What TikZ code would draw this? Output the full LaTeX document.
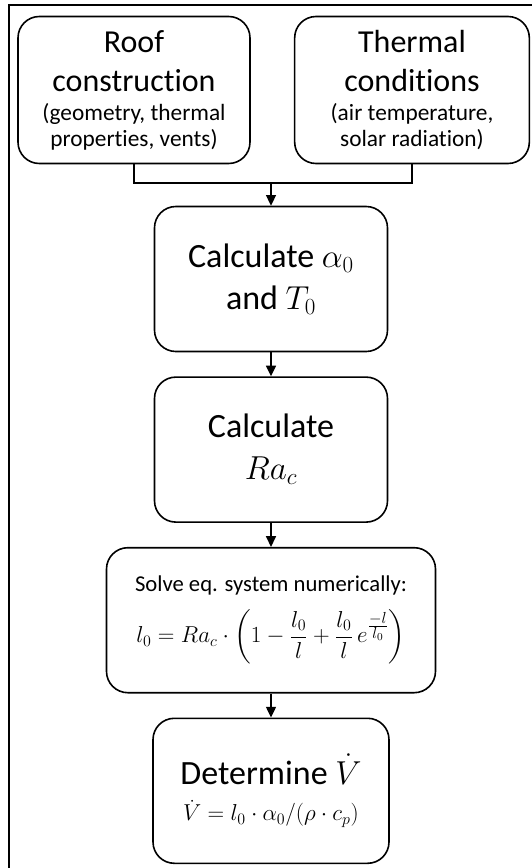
\documentclass[tikz,border=0pt]{standalone}
\usepackage{amsmath,amssymb}
\usepackage{fontspec}
\setmainfont{Carlito}[Ligatures=NoCommon]
\usetikzlibrary{arrows.meta, positioning}

\begin{document}
\begin{tikzpicture}[x=0.75pt, y=-0.75pt, >={Triangle[length=8pt, width=7.5pt]},
    inbox/.style={draw, line width=1.2pt, rounded corners=16pt, minimum height=110.25pt, align=center, inner sep=0pt, font=\fontsize{24}{29.25}\selectfont},
    stepbox/.style={draw, line width=1.2pt, rounded corners=16pt, minimum width=174.75pt, minimum height=108.75pt, align=center, inner sep=0pt, font=\fontsize{25.5}{31.5}\selectfont},
    link/.style={line width=1pt}]
    \useasboundingbox (0,0) rectangle (532,868);
    \draw[line width=1.8pt] (532,5) -- (9,5) -- (9,868);

    \node[inbox, minimum width=174pt] (roof) at (134,90) {Roof\\construction\\[-7.5pt]{\fontsize{17.5}{17.5}\selectfont (geometry, thermal}\\[-9.75pt]{\fontsize{17.5}{17.5}\selectfont properties, vents)}};
    \node[inbox, minimum width=176pt] (therm) at (412,90) {Thermal\\conditions\\[-7.5pt]{\fontsize{17.5}{17.5}\selectfont (air temperature,}\\[-9.75pt]{\fontsize{17.5}{17.5}\selectfont solar radiation)}};
    \coordinate (merge) at (271,183);
    \node[stepbox] (calcA) at (271,279) {Calculate $\alpha_0$\\and $T_0$};
    \node[stepbox, below=18pt of calcA] (calcRa) {Calculate\\$Ra_c$};
    \node[stepbox, below=18pt of calcRa, minimum width=246.75pt, font=\fontsize{17}{21}\selectfont] (solve) {Solve eq. system numerically:\\[10pt]$l_0 = Ra_c\cdot\left(1-\dfrac{l_0}{l}+\dfrac{l_0}{l}\,e^{\frac{\scriptstyle -l}{\scriptstyle l_0}}\right)$};
    \node[stepbox, below=18pt of solve, minimum width=177pt] (vdot) {Determine $\dot{V}$\\[-4pt]{\fontsize{17}{17}\selectfont $\dot{V} = l_0\cdot\alpha_0/(\rho\cdot c_p)$}};

    \draw[link] (roof.south) |- (merge) -| (therm.south);
    \draw[link, ->] (merge) -- (calcA);
    \draw[link, ->] (calcA) -- (calcRa);
    \draw[link, ->] (calcRa) -- (solve);
    \draw[link, ->] (solve) -- (vdot);
\end{tikzpicture}
\end{document}
